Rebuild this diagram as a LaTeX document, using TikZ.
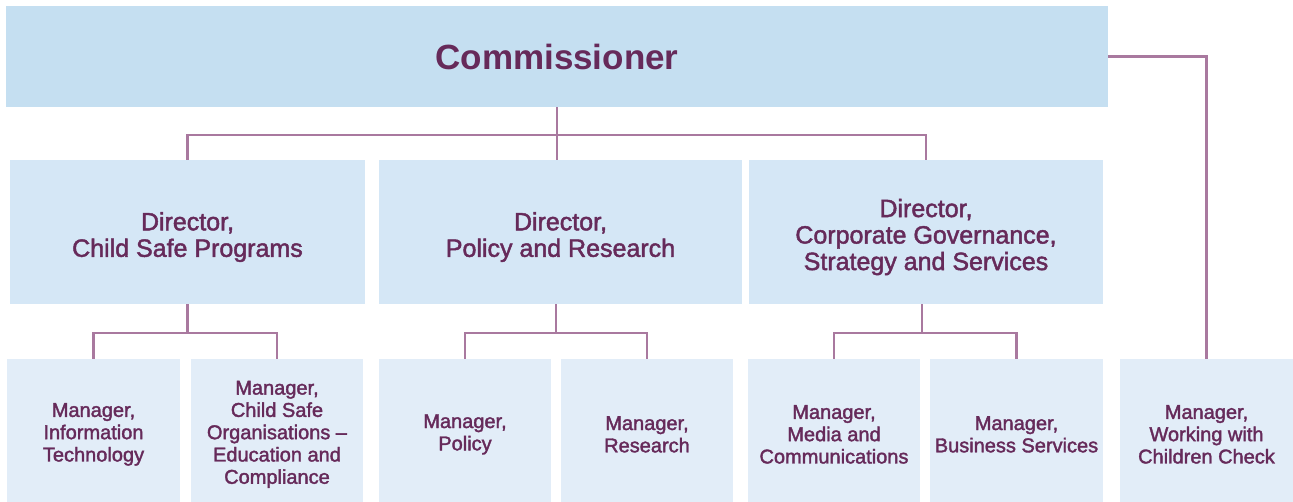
\documentclass[tikz,border=0pt]{standalone}
\usepackage{fontspec}
\setmainfont{Liberation Sans}
\newfontfamily\mediumfont[FakeBold=1.8]{Liberation Sans}
\usepackage{tikz}
\definecolor{plum}{HTML}{662A5A}
\definecolor{linkplum}{HTML}{A9799F}
\definecolor{topblue}{HTML}{C5DFF1}
\definecolor{dirblue}{HTML}{D5E7F6}
\definecolor{mgrblue}{HTML}{E2EDF8}
\newcommand\dirgap{\rule{0pt}{28.3pt}}
\newcommand\mgrgap{\rule{0pt}{21.5pt}}

\begin{document}
\begin{tikzpicture}[x=1pt, y=-1pt, link/.style={draw=linkplum, line width=2.6pt}]

\tikzstyle{every node}=[rectangle, inner sep=0pt, draw=none, text=plum, align=center]
\tikzstyle{comm box}=[fill=topblue, minimum width=1102pt, minimum height=101pt, font=\bfseries\fontsize{35}{40}\selectfont]
\tikzstyle{dir box}=[fill=dirblue, minimum width=355pt, minimum height=144pt, font=\mediumfont\fontsize{25}{26.5}\selectfont]
\tikzstyle{mgr box}=[fill=mgrblue, minimum width=172pt, minimum height=143pt, font=\mediumfont\fontsize{20}{22.3}\selectfont]

\useasboundingbox (0,0) rectangle (1293,502);

\node [comm box] (comm) at (557,56.5) {Commissioner};

\node [dir box] (dirA) at (187.5,232) {\dirgap Director,\\Child Safe Programs};
\node [dir box, minimum width=363pt] (dirB) at (560.5,232) {\dirgap Director,\\Policy and Research};
\node [dir box, minimum width=354pt] (dirC) at (926,232) {\dirgap Director,\\Corporate Governance,\\Strategy and Services};

\node [mgr box, minimum width=173pt] (mA1) at (93.5,430.5) {\mgrgap Manager,\\Information\\Technology};
\node [mgr box] (mA2) at (277,430.5) {\mgrgap Manager,\\Child Safe\\Organisations –\\Education and\\Compliance};
\node [mgr box] (mB1) at (465,430.5) {\mgrgap Manager,\\Policy};
\node [mgr box] (mB2) at (647,430.5) {\mgrgap Manager,\\Research};
\node [mgr box] (mC1) at (834,430.5) {\mgrgap Manager,\\Media and\\Communications};
\node [mgr box, minimum width=173pt] (mC2) at (1016.5,430.5) {\mgrgap Manager,\\Business Services};
\node [mgr box, minimum width=173pt] (mW) at (1206.5,430.5) {\mgrgap Manager,\\Working with\\Children Check};

\coordinate (topbar) at (557,135);
\coordinate (barA) at (187.5,333);
\coordinate (barB) at (556,333);
\coordinate (barC) at (922,333);

\draw [link] (comm.south) -- (comm.south |- dirB.north);
\draw [link] (dirA.north) |- (topbar) -| (dirC.north);
\draw [link] (comm.east) -| (mW.north);

\draw [link] (dirA.south -| barA) -- (barA);
\draw [link] (mA1.north) |- (barA) -| (mA2.north);
\draw [link] (dirB.south -| barB) -- (barB);
\draw [link] (mB1.north) |- (barB) -| (mB2.north);
\draw [link] (dirC.south -| barC) -- (barC);
\draw [link] (mC1.north) |- (barC) -| (mC2.north);

\end{tikzpicture}
\end{document}
